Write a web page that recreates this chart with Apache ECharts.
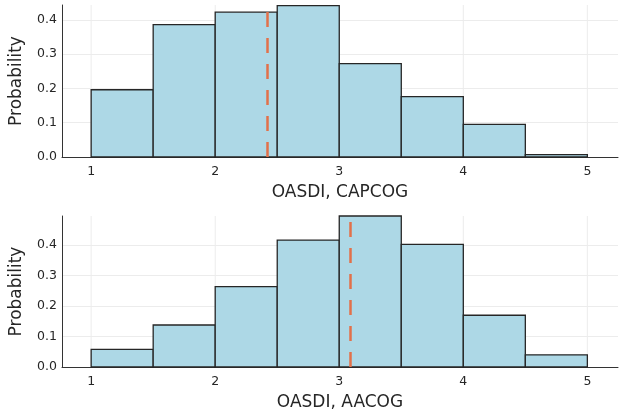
<!DOCTYPE html>
<html>
<head>
<meta charset="utf-8">
<script src="https://cdn.jsdelivr.net/npm/echarts@6/dist/echarts.min.js"></script>
<style>html,body{margin:0;padding:0;background:#fff}#c{width:624px;height:412px}</style>
</head>
<body>
<div id="c"></div>
<script>
// Bin edges shared by both histograms
const binEdges = [1, 1.5, 2, 2.5, 3, 3.5, 4, 4.5, 5];
// Probability density per bin
const capcogDensity = [0.196, 0.386, 0.422, 0.441, 0.272, 0.176, 0.095, 0.007];
const aacogDensity  = [0.058, 0.138, 0.264, 0.417, 0.496, 0.403, 0.170, 0.040];
// Means (dashed lines)
const capcogMean = 2.417;
const aacogMean = 3.086;
// Tick values
const xTicks = [1, 2, 3, 4, 5];
const yTicks = [0, 0.1, 0.2, 0.3, 0.4];
const titles = ['OASDI, CAPCOG', 'OASDI, AACOG'];

const FONT = 'DejaVu Sans';
const TXT = '#262626';
const GRIDC = '#ececec';

function bins(vals) {
  return vals.map((v, i) => [binEdges[i], binEdges[i + 1], v]);
}

function xAxisCfg(idx, name) {
  return {
    type: 'value', gridIndex: idx, min: 0.765, max: 5.247,
    axisLine: { show: true, onZero: false, lineStyle: { color: '#333', width: 1 } },
    axisTick: { show: false },
    splitLine: { show: false },
    axisLabel: { customValues: xTicks, color: TXT, fontFamily: FONT, fontSize: 12.5, margin: 8,
                 formatter: v => String(Math.round(v)) },
    name: name, nameLocation: 'middle', nameGap: 27,
    nameTextStyle: { color: TXT, fontFamily: FONT, fontSize: 17 }
  };
}
function yAxisCfg(idx, max) {
  return {
    type: 'value', gridIndex: idx, min: 0, max: max, interval: 0.1,
    axisLine: { show: true, lineStyle: { color: '#333', width: 1 } },
    axisTick: { show: false },
    splitLine: { show: true, showMaxLine: false, showMinLine: false, lineStyle: { color: GRIDC, width: 1 } },
    axisLabel: { customValues: yTicks, color: TXT, fontFamily: FONT, fontSize: 12.5, margin: 5,
                 formatter: v => v.toFixed(1) },
    name: 'Probability', nameLocation: 'middle', nameGap: 37,
    nameTextStyle: { color: TXT, fontFamily: FONT, fontSize: 17 }
  };
}
function gridLines(idx) {
  return {
    type: 'custom', xAxisIndex: idx, yAxisIndex: idx, z: 0, silent: true,
    data: xTicks.map(v => [v]),
    renderItem: function (params, api) {
      const ymax = idx === 0 ? 0.443 : 0.496;
      const p0 = api.coord([api.value(0), 0]);
      const p1 = api.coord([api.value(0), ymax]);
      return { type: 'line', shape: { x1: p0[0], y1: p0[1], x2: p1[0], y2: p1[1] },
               style: { stroke: GRIDC, lineWidth: 1 } };
    }
  };
}
function hist(idx, vals, mean) {
  return {
    type: 'custom', xAxisIndex: idx, yAxisIndex: idx, z: 2,
    data: bins(vals),
    renderItem: function (params, api) {
      const a = api.coord([api.value(0), api.value(2)]);
      const b = api.coord([api.value(1), 0]);
      return { type: 'rect', shape: { x: a[0], y: a[1], width: b[0] - a[0], height: b[1] - a[1] },
               style: { fill: '#add8e6', stroke: '#262626', lineWidth: 1.3 } };
    },
    markLine: {
      silent: true, symbol: 'none', label: { show: false }, z: 5,
      lineStyle: { color: '#e2704a', width: 2.5, type: [15, 11] },
      data: [{ xAxis: mean }]
    }
  };
}

const chart = echarts.init(document.getElementById('c'), null, { renderer: 'canvas' });
chart.setOption({
  animation: false,
  backgroundColor: '#fff',
  grid: [
    { left: 60, right: 6, top: 5, height: 152 },
    { left: 60, right: 6, top: 216, height: 151 }
  ],
  xAxis: [xAxisCfg(0, titles[0]), xAxisCfg(1, titles[1])],
  yAxis: [yAxisCfg(0, 0.443), yAxisCfg(1, 0.496)],
  series: [gridLines(0), gridLines(1), hist(0, capcogDensity, capcogMean), hist(1, aacogDensity, aacogMean)]
});
</script>
</body>
</html>
